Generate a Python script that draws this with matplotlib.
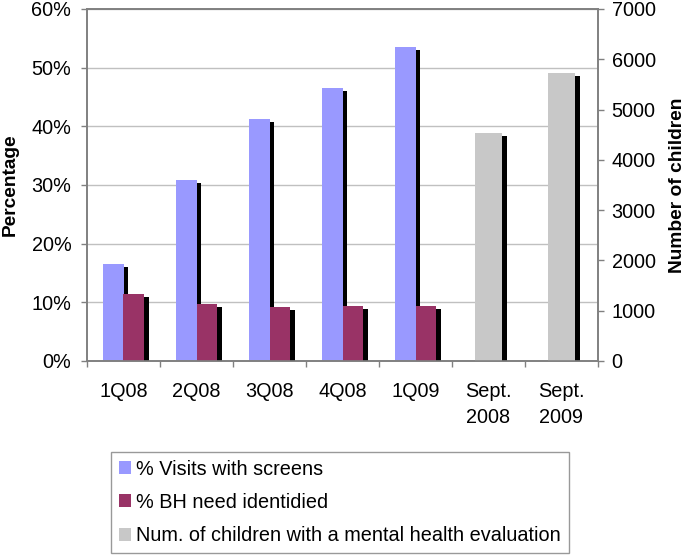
import matplotlib
matplotlib.use("Agg")
import matplotlib.pyplot as plt
import matplotlib.patheffects as pe
from matplotlib.patches import Patch
from matplotlib.ticker import FuncFormatter, MultipleLocator
import numpy as np

plt.rcParams['font.family'] = ['Liberation Sans', 'DejaVu Sans']

categories = ["1Q08", "2Q08", "3Q08", "4Q08", "1Q09", "Sept.\n2008", "Sept.\n2009"]
pct_categories = ["1Q08", "2Q08", "3Q08", "4Q08", "1Q09"]
visits_with_screens = [16.5, 30.9, 41.3, 46.6, 53.6]
bh_need_identified = [11.5, 9.8, 9.2, 9.4, 9.4]
num_categories = ["Sept.\n2008", "Sept.\n2009"]
num_children_eval = [4540, 5730]

labels = ["% Visits with screens", "% BH need identidied",
          "Num. of children with a mental health evaluation"]
colors = ["#9999FF", "#993366", "#C8C8C8"]

W, H = 685, 555
FS = 14.3
fig = plt.figure(figsize=(W / 100, H / 100), dpi=100)
L, R, T, B = 87, 598, 9, 361
ax = fig.add_axes([L / W, 1 - B / H, (R - L) / W, (B - T) / H])
ax2 = ax.twinx()

shadow = [pe.SimplePatchShadow(offset=(3.5, -2.2), shadow_rgbFace='black', alpha=1.0), pe.Normal()]

xall = np.arange(len(categories))
xp = np.array([categories.index(c) for c in pct_categories])
xn = np.array([categories.index(c) for c in num_categories])
bw = 0.285
b1 = ax.bar(xp - bw / 2, visits_with_screens, bw, color=colors[0], zorder=2)
b2 = ax.bar(xp + bw / 2, bh_need_identified, bw, color=colors[1], zorder=3)
b3 = ax2.bar(xn, num_children_eval, 0.38, color=colors[2], zorder=2)
for bars in (b1, b2, b3):
    for p in bars:
        p.set_path_effects(shadow)

ax.set_xlim(-0.5, len(categories) - 0.5)
ax.set_ylim(0, 60)
ax2.set_ylim(0, 7000)
ax.yaxis.set_major_locator(MultipleLocator(10))
ax.yaxis.set_major_formatter(FuncFormatter(lambda v, p: f"{v:.0f}%"))
ax2.yaxis.set_major_locator(MultipleLocator(1000))

ax.set_axisbelow(True)
ax.yaxis.grid(True, color="#C0C0C0", linewidth=1.0)

ax.set_xticks(xall)
ax.set_xticklabels(categories, linespacing=1.5)
ax.set_xticks(np.arange(len(categories) + 1) - 0.5, minor=True)
ax.tick_params(axis='x', which='major', length=0, pad=15, labelsize=FS)
ax.tick_params(axis='x', which='minor', length=4.3, color="#808080", width=1)
ax.tick_params(axis='y', length=4.3, color="#808080", width=1, labelsize=FS, pad=7)
ax2.tick_params(axis='y', length=4.3, color="#808080", width=1, labelsize=FS, pad=5.5)

for a in (ax, ax2):
    for s in a.spines.values():
        s.set_color("#808080")
        s.set_linewidth(1.2)

ax.set_ylabel("Percentage", fontsize=13.8, fontweight='bold')
ax.yaxis.set_label_coords(-0.134, 0.5)
ax2.set_ylabel("Number of children", fontsize=13.8, fontweight='bold')
ax2.yaxis.set_label_coords(1.139, 0.5)

handles = [Patch(facecolor=c, edgecolor='none') for c in colors]
leg = fig.legend(handles, labels, loc='upper left', bbox_to_anchor=(111 / W, 1 - 452 / H),
                 fontsize=FS, frameon=True, fancybox=False, edgecolor="#808080",
                 handlelength=0.62, handleheight=0.62, handletextpad=0.28,
                 labelspacing=0.72, borderpad=0.38, borderaxespad=0)
leg.get_frame().set_linewidth(1.0)

fig.savefig("out.png", dpi=100)
